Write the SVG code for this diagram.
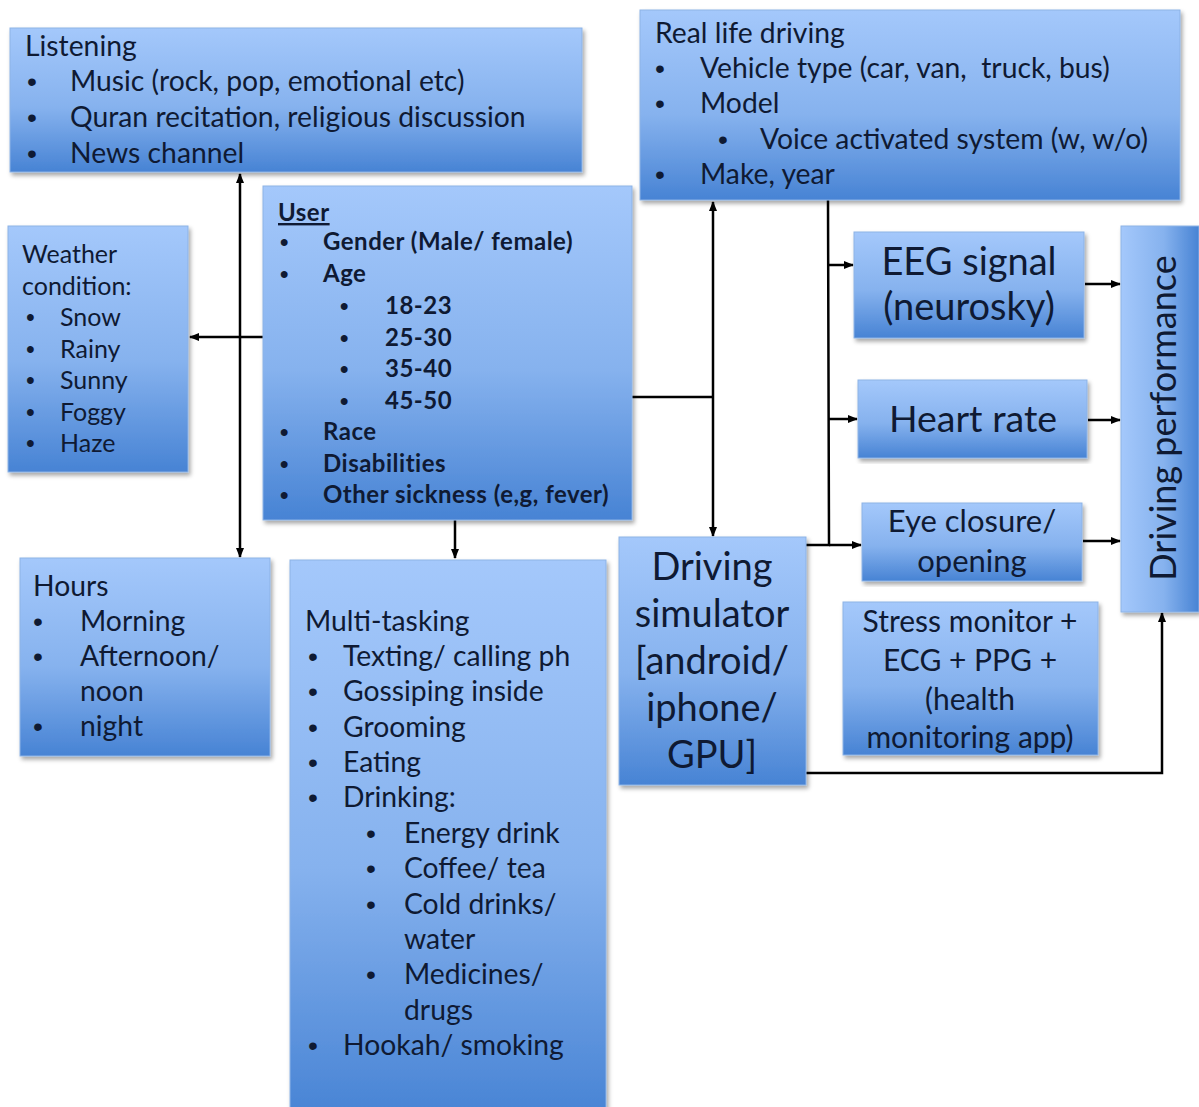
<svg xmlns="http://www.w3.org/2000/svg" width="1199" height="1107" viewBox="0 0 1199 1107">
<defs>
<linearGradient id="g" x1="0" y1="0" x2="0" y2="1">
<stop offset="0" stop-color="#a4c8fb"/>
<stop offset="0.55" stop-color="#86b2ee"/>
<stop offset="1" stop-color="#4783d4"/>
</linearGradient>
<linearGradient id="gh" x1="0" y1="0" x2="1" y2="0">
<stop offset="0" stop-color="#a4c8fb"/>
<stop offset="0.55" stop-color="#86b2ee"/>
<stop offset="1" stop-color="#4783d4"/>
</linearGradient>
<filter id="sh" x="-5%" y="-5%" width="112%" height="112%">
<feDropShadow dx="2" dy="3" stdDeviation="2" flood-color="#000" flood-opacity="0.35"/>
</filter>
<marker id="a" viewBox="0 0 10 10" refX="9" refY="5" markerWidth="10" markerHeight="10" markerUnits="userSpaceOnUse" orient="auto-start-reverse">
<path d="M0,1 L10,5 L0,9 z" fill="#000"/>
</marker>
</defs>
<style>
.box{fill:url(#g);stroke:#8db3e6;stroke-width:1;filter:url(#sh)}
.boxh{fill:url(#gh);stroke:#8db3e6;stroke-width:1;filter:url(#sh)}
text{font-family:Lato,"Open Sans","Liberation Sans",sans-serif;fill:#0f1a33}
.t25{font-size:28.3px}
.t22{font-size:25px}
.b{font-size:24px;font-weight:bold;letter-spacing:0.5px}
.c{text-anchor:middle}
.bu{font-family:"Liberation Sans",sans-serif}
.ln{stroke:#000;stroke-width:2.5;fill:none}
</style>
<rect width="1199" height="1107" fill="#fff"/>

<g id="connectors">
<line class="ln" x1="240" y1="186" x2="240" y2="174" marker-end="url(#a)"/>
<line class="ln" x1="240" y1="186" x2="240" y2="557" marker-end="url(#a)"/>
<line class="ln" x1="263" y1="337" x2="190" y2="337" marker-end="url(#a)"/>
<line class="ln" x1="455" y1="520" x2="455" y2="558" marker-end="url(#a)"/>
<line class="ln" x1="632" y1="397" x2="713" y2="397"/>
<line class="ln" x1="713" y1="397" x2="713" y2="202" marker-end="url(#a)"/>
<line class="ln" x1="713" y1="397" x2="713" y2="536" marker-end="url(#a)"/>
<polyline class="ln" points="828,200 829,545 806,545"/>
<line class="ln" x1="828" y1="265" x2="853" y2="265" marker-end="url(#a)"/>
<line class="ln" x1="829" y1="419" x2="857" y2="419" marker-end="url(#a)"/>
<line class="ln" x1="829" y1="545" x2="861" y2="545" marker-end="url(#a)"/>
<line class="ln" x1="1085" y1="284" x2="1120" y2="284" marker-end="url(#a)"/>
<line class="ln" x1="1088" y1="420" x2="1120" y2="420" marker-end="url(#a)"/>
<line class="ln" x1="1083" y1="541" x2="1120" y2="541" marker-end="url(#a)"/>
<polyline class="ln" points="806,773 1162,773 1162,613" marker-end="url(#a)"/>
</g>

<g id="listening">
<rect class="box" x="10" y="28" width="572" height="144"/>
<text class="t25" x="25" y="56">Listening</text>
<text class="t25 bu" x="27" y="91">•</text><text class="t25" x="70" y="91">Music (rock, pop, emotional etc)</text>
<text class="t25 bu" x="27" y="127">•</text><text class="t25" x="70" y="127">Quran recitation, religious discussion</text>
<text class="t25 bu" x="27" y="163">•</text><text class="t25" x="70" y="163">News channel</text>
</g>

<g id="real-life">
<rect class="box" x="640" y="10" width="540" height="190"/>
<text class="t25" x="655" y="43">Real life driving</text>
<text class="t25 bu" x="655" y="78">•</text><text class="t25" x="700" y="78" style="white-space:pre">Vehicle type (car, van,  truck, bus)</text>
<text class="t25 bu" x="655" y="113">•</text><text class="t25" x="700" y="113">Model</text>
<text class="t25 bu" x="718" y="149">•</text><text class="t25" x="760" y="149">Voice activated system (w, w/o)</text>
<text class="t25 bu" x="655" y="184">•</text><text class="t25" x="700" y="184">Make, year</text>
</g>

<g id="weather">
<rect class="box" x="8" y="226" width="180" height="246"/>
<text class="t22" x="22" y="263">Weather</text>
<text class="t22" x="22" y="295">condition:</text>
<text class="t22 bu" x="26" y="326">•</text><text class="t22" x="60" y="326">Snow</text>
<text class="t22 bu" x="26" y="358">•</text><text class="t22" x="60" y="358">Rainy</text>
<text class="t22 bu" x="26" y="389">•</text><text class="t22" x="60" y="389">Sunny</text>
<text class="t22 bu" x="26" y="421">•</text><text class="t22" x="60" y="421">Foggy</text>
<text class="t22 bu" x="26" y="452">•</text><text class="t22" x="60" y="452">Haze</text>
</g>

<g id="user">
<rect class="box" x="263" y="186" width="369" height="334"/>
<text class="b" x="278" y="221" text-decoration="underline">User</text>
<text class="b bu" x="280" y="250">•</text><text class="b" x="323" y="250">Gender (Male/ female)</text>
<text class="b bu" x="280" y="282">•</text><text class="b" x="323" y="282">Age</text>
<text class="b bu" x="340" y="314">•</text><text class="b" x="385" y="314">18-23</text>
<text class="b bu" x="340" y="346">•</text><text class="b" x="385" y="346">25-30</text>
<text class="b bu" x="340" y="377">•</text><text class="b" x="385" y="377">35-40</text>
<text class="b bu" x="340" y="409">•</text><text class="b" x="385" y="409">45-50</text>
<text class="b bu" x="280" y="440">•</text><text class="b" x="323" y="440">Race</text>
<text class="b bu" x="280" y="472">•</text><text class="b" x="323" y="472">Disabilities</text>
<text class="b bu" x="280" y="503">•</text><text class="b" x="323" y="503">Other sickness (e,g, fever)</text>
</g>

<g id="hours">
<rect class="box" x="20" y="558" width="250" height="198"/>
<text class="t25" x="33" y="596">Hours</text>
<text class="t25 bu" x="33" y="631">•</text><text class="t25" x="80" y="631">Morning</text>
<text class="t25 bu" x="33" y="666">•</text><text class="t25" x="80" y="666">Afternoon/</text>
<text class="t25" x="80" y="701">noon</text>
<text class="t25 bu" x="33" y="736">•</text><text class="t25" x="80" y="736">night</text>
</g>

<g id="multitasking">
<rect class="box" x="290" y="560" width="316" height="560"/>
<text class="t25" x="305" y="631">Multi-tasking</text>
<text class="t25 bu" x="308" y="666">•</text><text class="t25" x="343" y="666">Texting/ calling ph</text>
<text class="t25 bu" x="308" y="701">•</text><text class="t25" x="343" y="701">Gossiping inside</text>
<text class="t25 bu" x="308" y="737">•</text><text class="t25" x="343" y="737">Grooming</text>
<text class="t25 bu" x="308" y="772">•</text><text class="t25" x="343" y="772">Eating</text>
<text class="t25 bu" x="308" y="807">•</text><text class="t25" x="343" y="807">Drinking:</text>
<text class="t25 bu" x="366" y="843">•</text><text class="t25" x="404" y="843">Energy drink</text>
<text class="t25 bu" x="366" y="878">•</text><text class="t25" x="404" y="878">Coffee/ tea</text>
<text class="t25 bu" x="366" y="914">•</text><text class="t25" x="404" y="914">Cold drinks/</text>
<text class="t25" x="404" y="949">water</text>
<text class="t25 bu" x="366" y="984">•</text><text class="t25" x="404" y="984">Medicines/</text>
<text class="t25" x="404" y="1020">drugs</text>
<text class="t25 bu" x="308" y="1055">•</text><text class="t25" x="343" y="1055">Hookah/ smoking</text>
</g>

<g id="simulator">
<rect class="box" x="619" y="537" width="187" height="248"/>
<text class="c" x="712" y="580" font-size="38">Driving</text>
<text class="c" x="712" y="627" font-size="38">simulator</text>
<text class="c" x="712" y="674" font-size="38">[android/</text>
<text class="c" x="712" y="721" font-size="38">iphone/</text>
<text class="c" x="712" y="768" font-size="38">GPU]</text>
</g>

<g id="eeg">
<rect class="box" x="854" y="232" width="230" height="106"/>
<text class="c" x="969" y="275" font-size="38">EEG signal</text>
<text class="c" x="969" y="320" font-size="38">(neurosky)</text>
</g>

<g id="heart">
<rect class="box" x="858" y="380" width="229" height="78"/>
<text class="c" x="973" y="432" font-size="37.5">Heart rate</text>
</g>

<g id="eye">
<rect class="box" x="862" y="503" width="220" height="78"/>
<text class="c" x="972" y="532" font-size="31">Eye closure/</text>
<text class="c" x="972" y="572" font-size="31">opening</text>
</g>

<g id="stress">
<rect class="box" x="843" y="602" width="255" height="153"/>
<text class="c" x="970" y="632" font-size="30">Stress monitor +</text>
<text class="c" x="970" y="671" font-size="30">ECG + PPG +</text>
<text class="c" x="970" y="710" font-size="30">(health</text>
<text class="c" x="970" y="748" font-size="30">monitoring app)</text>
</g>

<g id="performance">
<rect class="boxh" x="1121" y="226" width="78" height="386"/>
<text class="c" transform="translate(1176,418) rotate(-90)" x="0" y="0" font-size="36">Driving performance</text>
</g>
</svg>
